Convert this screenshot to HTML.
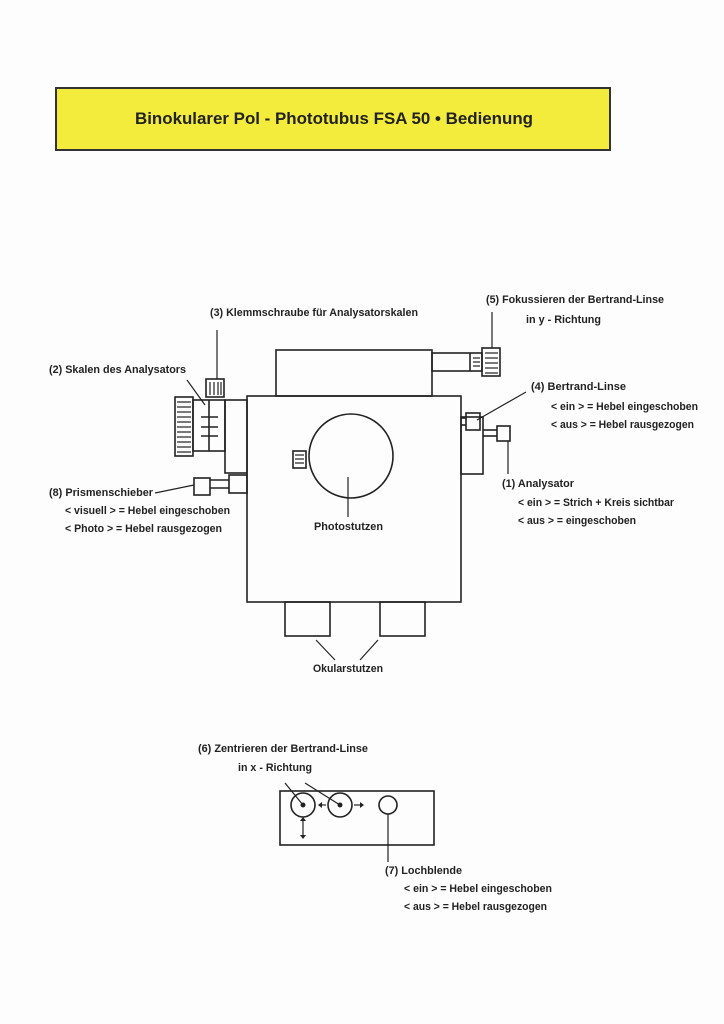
<!DOCTYPE html>
<html><head><meta charset="utf-8"><style>
html,body{margin:0;padding:0;background:#fdfdfd;}
svg{display:block}
text{font-family:"Liberation Sans",sans-serif;font-weight:bold;font-size:11px;fill:#222;}
</style></head><body>
<svg width="724" height="1024" viewBox="0 0 724 1024" xmlns="http://www.w3.org/2000/svg">
<rect width="724" height="1024" fill="#fdfdfd"/>
<rect x="56" y="88" width="554" height="62" fill="#f3ec3c" stroke="#333" stroke-width="2"/>
<text x="135" y="124" font-size="17" textLength="398" lengthAdjust="spacingAndGlyphs" style="font-size:17px">Binokularer Pol - Phototubus FSA 50 • Bedienung</text>

<g fill="none" stroke="#222" stroke-width="1.6">
<rect x="247" y="396" width="214" height="206"/>
<rect x="276" y="350" width="156" height="46"/>
<rect x="432" y="353" width="50" height="18"/>
<line x1="470" y1="353" x2="470" y2="371"/>
<rect x="482" y="348" width="18" height="28"/>
<rect x="225" y="400" width="22" height="73"/>
<rect x="193" y="400" width="32" height="51"/>
<line x1="209" y1="400" x2="209" y2="451"/>
<line x1="201" y1="417" x2="218" y2="417"/><line x1="201" y1="427" x2="218" y2="427"/><line x1="201" y1="436" x2="218" y2="436"/>
<rect x="175" y="397" width="18" height="59"/>
<rect x="206" y="379" width="18" height="18"/>
<rect x="229" y="475" width="18" height="18"/>
<line x1="210" y1="480" x2="229" y2="480"/><line x1="210" y1="488" x2="229" y2="488"/>
<rect x="194" y="478" width="16" height="17"/>
<rect x="461" y="417" width="22" height="57"/>
<rect x="466" y="413" width="14" height="17"/>
<line x1="461" y1="418" x2="466" y2="418"/><line x1="461" y1="425" x2="466" y2="425"/>
<rect x="497" y="426" width="13" height="15"/>
<line x1="483" y1="430" x2="497" y2="430"/><line x1="483" y1="436" x2="497" y2="436"/>
<circle cx="351" cy="456" r="42"/>
<rect x="293" y="451" width="13" height="17"/>
<rect x="285" y="602" width="45" height="34"/>
<rect x="380" y="602" width="45" height="34"/>
<rect x="280" y="791" width="154" height="54"/>
<circle cx="303" cy="805" r="12"/><circle cx="340" cy="805" r="12"/><circle cx="388" cy="805" r="9"/>
</g>
<g stroke="#222" stroke-width="1.2">
<line x1="177" y1="402" x2="191" y2="402"/><line x1="177" y1="407" x2="191" y2="407"/><line x1="177" y1="412" x2="191" y2="412"/><line x1="177" y1="417" x2="191" y2="417"/><line x1="177" y1="422" x2="191" y2="422"/><line x1="177" y1="427" x2="191" y2="427"/><line x1="177" y1="432" x2="191" y2="432"/><line x1="177" y1="437" x2="191" y2="437"/><line x1="177" y1="442" x2="191" y2="442"/><line x1="177" y1="447" x2="191" y2="447"/><line x1="177" y1="452" x2="191" y2="452"/>
<line x1="485" y1="353" x2="498" y2="353"/><line x1="485" y1="358" x2="498" y2="358"/><line x1="485" y1="363" x2="498" y2="363"/><line x1="485" y1="368" x2="498" y2="368"/><line x1="485" y1="373" x2="498" y2="373"/>
<line x1="473" y1="358" x2="480" y2="358"/><line x1="473" y1="362" x2="480" y2="362"/><line x1="473" y1="366" x2="480" y2="366"/>
<line x1="210" y1="382" x2="210" y2="395"/><line x1="214" y1="382" x2="214" y2="395"/><line x1="218" y1="382" x2="218" y2="395"/><line x1="221" y1="382" x2="221" y2="395"/>
<line x1="295" y1="455" x2="304" y2="455"/><line x1="295" y1="459" x2="304" y2="459"/><line x1="295" y1="463" x2="304" y2="463"/>
<line x1="217" y1="330" x2="217" y2="379"/>
<line x1="492" y1="312" x2="492" y2="348"/>
<line x1="187" y1="380" x2="205" y2="405"/>
<line x1="526" y1="392" x2="477" y2="420"/>
<line x1="155" y1="493" x2="194" y2="485"/>
<line x1="508" y1="441" x2="508" y2="474"/>
<line x1="348" y1="477" x2="348" y2="517"/>
<line x1="316" y1="640" x2="335" y2="660"/><line x1="378" y1="640" x2="360" y2="660"/>
<line x1="285" y1="783" x2="303" y2="805"/><line x1="305" y1="783" x2="340" y2="805"/>
<line x1="388" y1="814" x2="388" y2="862"/>
<line x1="319" y1="805" x2="326" y2="805"/><line x1="354" y1="805" x2="361" y2="805"/><line x1="303" y1="820" x2="303" y2="836"/>
</g>
<g fill="#222"><circle cx="303" cy="805" r="2.5"/><circle cx="340" cy="805" r="2.5"/>
<polygon points="318,805 322,802 322,808"/><polygon points="364,805 360,802 360,808"/>
<polygon points="303,817 300,821 306,821"/><polygon points="303,839 300,835 306,835"/></g>

<text x="210" y="316" textLength="208" lengthAdjust="spacingAndGlyphs">(3)  Klemmschraube für Analysatorskalen</text>
<text x="486" y="303" textLength="178" lengthAdjust="spacingAndGlyphs">(5)  Fokussieren der Bertrand-Linse</text>
<text x="526" y="323" textLength="75" lengthAdjust="spacingAndGlyphs">in  y - Richtung</text>
<text x="49" y="373" textLength="137" lengthAdjust="spacingAndGlyphs">(2)  Skalen des Analysators</text>
<text x="531" y="390" textLength="95" lengthAdjust="spacingAndGlyphs">(4)  Bertrand-Linse</text>
<text x="551" y="410" textLength="147" lengthAdjust="spacingAndGlyphs">&lt; ein &gt; = Hebel eingeschoben</text>
<text x="551" y="428" textLength="143" lengthAdjust="spacingAndGlyphs">&lt; aus &gt; = Hebel rausgezogen</text>
<text x="49" y="496" textLength="104" lengthAdjust="spacingAndGlyphs">(8)  Prismenschieber</text>
<text x="65" y="514" textLength="165" lengthAdjust="spacingAndGlyphs">&lt; visuell &gt; = Hebel eingeschoben</text>
<text x="65" y="532" textLength="157" lengthAdjust="spacingAndGlyphs">&lt; Photo &gt; = Hebel rausgezogen</text>
<text x="502" y="487" textLength="72" lengthAdjust="spacingAndGlyphs">(1) Analysator</text>
<text x="518" y="506" textLength="156" lengthAdjust="spacingAndGlyphs">&lt; ein &gt; = Strich + Kreis sichtbar</text>
<text x="518" y="524" textLength="118" lengthAdjust="spacingAndGlyphs">&lt; aus &gt; = eingeschoben</text>
<text x="314" y="530" textLength="69" lengthAdjust="spacingAndGlyphs">Photostutzen</text>
<text x="313" y="672" textLength="70" lengthAdjust="spacingAndGlyphs">Okularstutzen</text>
<text x="198" y="752" textLength="170" lengthAdjust="spacingAndGlyphs">(6)  Zentrieren der Bertrand-Linse</text>
<text x="238" y="771" textLength="74" lengthAdjust="spacingAndGlyphs">in  x - Richtung</text>
<text x="385" y="874" textLength="77" lengthAdjust="spacingAndGlyphs">(7)  Lochblende</text>
<text x="404" y="892" textLength="148" lengthAdjust="spacingAndGlyphs">&lt; ein &gt; = Hebel eingeschoben</text>
<text x="404" y="910" textLength="143" lengthAdjust="spacingAndGlyphs">&lt; aus &gt; = Hebel rausgezogen</text>
</svg>
</body></html>
